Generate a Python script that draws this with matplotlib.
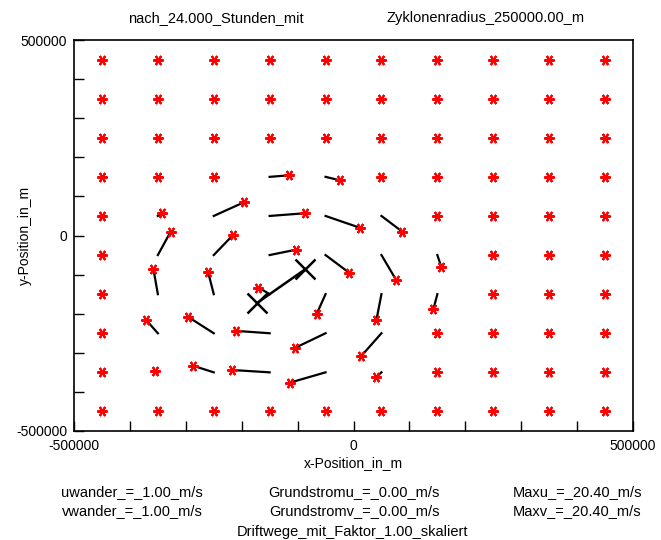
import matplotlib

matplotlib.use("Agg")
import matplotlib.pyplot as plt

# start grid (m)
GRID_X = [-450000, -350000, -250000, -150000, -50000, 50000, 150000, 250000, 350000, 450000]
GRID_Y = [450000, 350000, 250000, 150000, 50000, -50000, -150000, -250000, -350000, -450000]

# drifted particles: start -> end after 24 h
START_X = [-150000, -50000, -350000, -250000, -150000, -50000, 50000,
           -350000, -250000, -150000, -50000, 50000, 150000,
           -350000, -250000, -150000, -50000, 50000, 150000,
           -350000, -250000, -150000, -50000, 50000,
           -350000, -250000, -150000, -50000, 50000]
START_Y = [150000, 150000, 50000, 50000, 50000, 50000, 50000,
           -50000, -50000, -50000, -50000, -50000, -50000,
           -150000, -150000, -150000, -150000, -150000, -150000,
           -250000, -250000, -250000, -250000, -250000,
           -350000, -350000, -350000, -350000, -350000]
END_X = [-115000, -24000, -342000, -196000, -86000, 11000, 87000,
         -327000, -215000, -102000, -8000, 76000, 157000,
         -358000, -260000, -170000, -66000, 41000, 143000,
         -371000, -296000, -210000, -104000, 14000,
         -355000, -287000, -217000, -113000, 41000]
END_Y = [154000, 141000, 57000, 85000, 57000, 20000, 10000,
         10000, 2000, -36000, -95000, -113000, -80000,
         -85000, -94000, -133000, -201000, -216000, -188000,
         -216000, -208000, -244000, -287000, -308000,
         -346000, -333000, -344000, -376000, -362000]

# cyclone centre track
CENTER_X = [-172800, -86400]
CENTER_Y = [-172800, -86400]

plt.rcParams["font.family"] = ["Liberation Sans", "DejaVu Sans"]

fig = plt.figure(figsize=(6.61, 5.40), dpi=100)
ax = fig.add_axes([74 / 661, 1 - 431 / 540, (633 - 74) / 661, (431 - 40) / 540])

moved = {(sx, sy): (ex, ey) for sx, sy, ex, ey in zip(START_X, START_Y, END_X, END_Y)}
fx, fy = [], []
for gx in GRID_X:
    for gy in GRID_Y:
        ex, ey = moved.get((gx, gy), (gx, gy))
        fx.append(ex)
        fy.append(ey)

for sx, sy, ex, ey in zip(START_X, START_Y, END_X, END_Y):
    ax.plot([sx, ex], [sy, ey], color="black", lw=1.6, zorder=2)

ax.plot(CENTER_X, CENTER_Y, color="black", lw=1.8, zorder=2)
ax.plot(CENTER_X, CENTER_Y, ls="none", marker="x", ms=14, mew=1.8,
        color="black", zorder=3)

ax.plot(fx, fy, ls="none", marker=(6, 2, 90), ms=7.5, mew=1.5,
        color="red", zorder=4)

ax.set_xlim(-500000, 500000)
ax.set_ylim(-500000, 500000)
ticks = [-500000, -400000, -300000, -200000, -100000, 0,
         100000, 200000, 300000, 400000, 500000]
tlabels = ["-500000", "", "", "", "", "0", "", "", "", "", "500000"]
ax.set_xticks(ticks)
ax.set_xticklabels(tlabels)
ax.set_yticks(ticks)
ax.set_yticklabels(tlabels)
ax.tick_params(direction="in", length=7, width=1, labelsize=10, pad=5)
ax.tick_params(axis="x", pad=6)
for s in ax.spines.values():
    s.set_linewidth(1.2)

ax.set_xlabel("x-Position_in_m", fontsize=10, labelpad=2)
ax.set_ylabel("y-Position_in_m", fontsize=10)
ax.yaxis.set_label_coords((32 - 74) / 559, 0.5)

fig.text(216 / 661, 1 - 18 / 540, "nach_24.000_Stunden_mit", ha="center", va="center", fontsize=10.5)
fig.text(486 / 661, 1 - 18 / 540, "Zyklonenradius_250000.00_m", ha="center", va="center", fontsize=10.5)

fig.text(132 / 661, 1 - 492 / 540, "uwander_=_1.00_m/s", ha="center", va="center", fontsize=10.5)
fig.text(132 / 661, 1 - 511 / 540, "vwander_=_1.00_m/s", ha="center", va="center", fontsize=10.5)
fig.text(354 / 661, 1 - 492 / 540, "Grundstromu_=_0.00_m/s", ha="center", va="center", fontsize=10.5)
fig.text(354 / 661, 1 - 511 / 540, "Grundstromv_=_0.00_m/s", ha="center", va="center", fontsize=10.5)
fig.text(577 / 661, 1 - 492 / 540, "Maxu_=_20.40_m/s", ha="center", va="center", fontsize=10.5)
fig.text(577 / 661, 1 - 511 / 540, "Maxv_=_20.40_m/s", ha="center", va="center", fontsize=10.5)
fig.text(352 / 661, 1 - 532 / 540, "Driftwege_mit_Faktor_1.00_skaliert", ha="center", va="center", fontsize=10.5)

fig.savefig("out.png", dpi=100)
